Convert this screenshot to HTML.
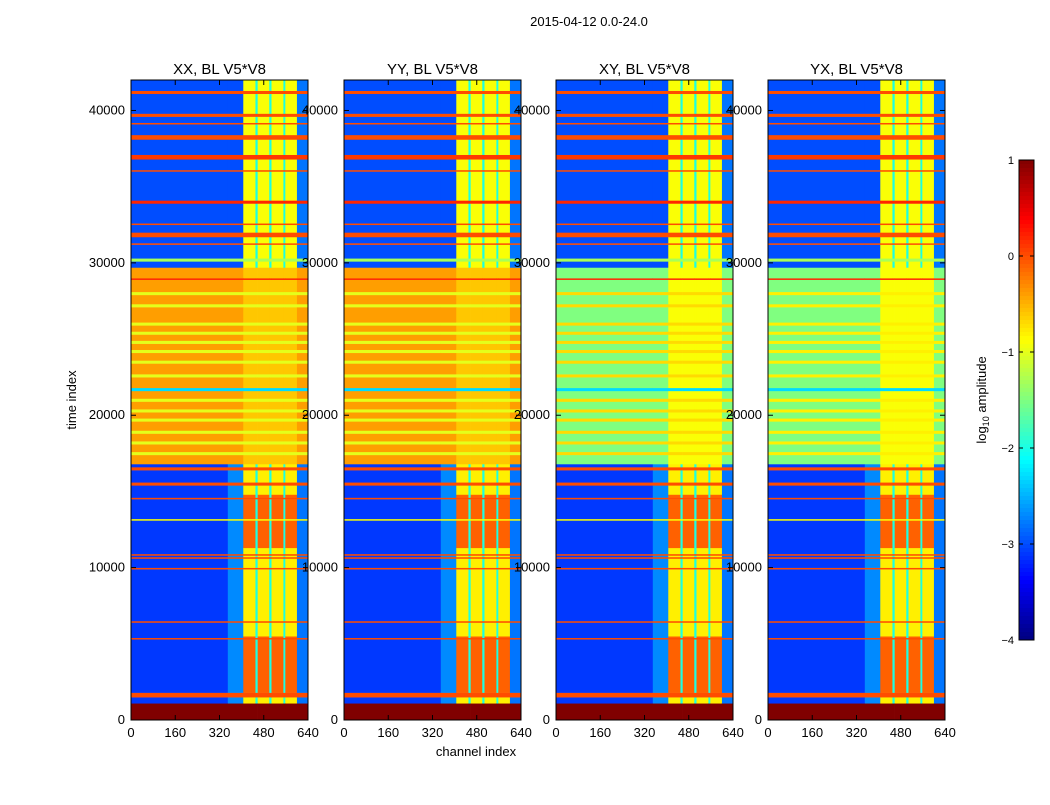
<!DOCTYPE html>
<html><head><meta charset="utf-8">
<style>
body{margin:0;background:#fff;}
svg text{font-family:"Liberation Sans",sans-serif;fill:#000;}
</style></head>
<body>
<svg id="fig" width="1050" height="800" xmlns="http://www.w3.org/2000/svg">
<rect width="1050" height="800" fill="#fff"/>
<text x="589" y="26" font-size="13" text-anchor="middle">2015-04-12 0.0-24.0</text>
<text transform="translate(76,400) rotate(-90)" font-size="13" text-anchor="middle">time index</text>
<text x="476" y="756" font-size="13" text-anchor="middle">channel index</text>
<g id="panels"></g>
<g id="cbar"></g>
<text transform="translate(986,400) rotate(-90)" font-size="13" text-anchor="middle">log<tspan font-size="9" dy="3">10</tspan><tspan dy="-3"> amplitude</tspan></text>
</svg>
<script>
const panelTitles = ["XX, BL V5*V8","YY, BL V5*V8","XY, BL V5*V8","YX, BL V5*V8"];
const panelLeft = [131,344,556,768];
const yTicks = [0,10000,20000,30000,40000];
const xTicks = [0,160,320,480,640];
const cbTicks = [1,0,-1,-2,-3,-4];
const bands = [[0,350,'bg'],[350,406,'ramp'],[406,450,'rfi'],[450,458,'gap'],[458,500,'rfi'],[500,508,'gap'],[508,551,'rfi'],[551,558,'gap'],[558,600,'rfi'],[600,640,'edge']];
const regions = [[0,1100,'flag'],[1100,16800,'low'],[16800,29700,'mid'],[29700,42000,'high']];
const hotSegments = [[1800,5500],[11300,14800]];
const midBase = [-0.4,-0.4,-1.5,-1.5];
const midRfi = [-0.6,-0.6,-0.9,-0.9];
const midLineVal = [-1.0,-1.0,-0.7,-0.8];
const midLines = [28000,27200,26000,25400,24800,24200,23500,22600,21000,20300,19700,18900,18200,17500];
const lines = [[41200,100,0],[39700,120,0],[39150,120,0],[38300,100,0],[38150,80,0],[36950,350,0.1],[36050,150,0],[34000,100,0.2],[33900,80,0],[33200,80,0],[32550,80,0],[31850,300,0],[31250,100,0],[30200,150,-1.3],[28950,150,0.2],[21700,100,-2.3],[16500,100,0],[15500,100,0],[14550,100,0],[13150,80,-0.9],[12500,80,-0.9],[10850,100,0],[10650,80,0],[9950,80,0],[7800,80,-0.9],[6450,100,0],[6200,80,0],[5350,80,0],[4100,80,0],[1650,200,0]];

const NS="http://www.w3.org/2000/svg";
const plotTop=80,plotBot=720,pw=177,tMax=42000;
function yS(t){return plotBot-(t/tMax)*(plotBot-plotTop);}
function jet(v){let f=Math.max(0,Math.min(1,(v+4)/5));
 const c=x=>Math.round(255*Math.max(0,Math.min(1,1.5-Math.abs(x))));
 return `rgb(${c(4*f-3)},${c(4*f-2)},${c(4*f-1)})`;}
function mk(tag,attrs,parent){const e=document.createElementNS(NS,tag);for(const k in attrs)e.setAttribute(k,attrs[k]);parent.appendChild(e);return e;}
function val(p,kind,t){
 let reg='high';for(const r of regions) if(t>=r[0]&&t<r[1]) reg=r[2];
 if(reg==='flag') return 1;
 for(const l of lines) if(Math.abs(t-l[0])<=l[1]/2) return l[2];
 if(reg==='mid'){
  for(const m of midLines) if(Math.abs(t-m)<=50) return midLineVal[p];
  return (kind==='rfi'||kind==='gap')?midRfi[p]:midBase[p];
 }
 if(reg==='low'){
  if(kind==='bg') return -3.1; if(kind==='ramp') return -2.7; if(kind==='edge') return -2.8; if(kind==='gap') return -2.0;
  for(const h of hotSegments) if(t>=h[0]&&t<h[1]) return -0.1;
  return -0.8;
 }
 if(kind==='bg'||kind==='ramp') return -3.0; if(kind==='edge') return -2.8; if(kind==='gap') return -2.0;
 return -0.9;
}
const G=document.getElementById('panels');
panelLeft.forEach((x0,p)=>{
 const g=mk('g',{},G);
 
 
 const xS=c=>x0+c/640*pw;
 const step=100;
 bands.forEach(b=>{
  let runStart=0,runVal=val(p,b[2],50);
  for(let t=step;t<=tMax;t+=step){
   const v=t<tMax?val(p,b[2],t+50):null;
   if(v!==runVal){
    const r=mk('rect',{x:xS(b[0]),width:xS(b[1])-xS(b[0])+0.3,y:yS(t),height:yS(runStart)-yS(t)+0.3,fill:jet(runVal)},g);
    
    
    runStart=t;runVal=v;
   }
  }
 });
 const fr=mk('rect',{x:x0,y:plotTop,width:pw,height:plotBot-plotTop,fill:'none',stroke:'#000','stroke-width':1},g);
 
 
 const tt=mk('text',{x:x0+pw/2,y:74,'font-size':15,'text-anchor':'middle'},g);tt.textContent=panelTitles[p];
 
 
 yTicks.forEach(v=>{const y=yS(v);
  mk('line',{x1:x0,x2:x0+5,y1:y,y2:y,stroke:'#000'},g);mk('line',{x1:x0+pw-5,x2:x0+pw,y1:y,y2:y,stroke:'#000'},g);
  const l=mk('text',{x:x0-6,y:y+4,'font-size':13,'text-anchor':'end'},g);l.textContent=v;
  
  });
 xTicks.forEach(v=>{const x=xS(v);
  mk('line',{x1:x,x2:x,y1:plotBot,y2:plotBot-5,stroke:'#000'},g);mk('line',{x1:x,x2:x,y1:plotTop,y2:plotTop+5,stroke:'#000'},g);
  const l=mk('text',{x:x,y:plotBot+17,'font-size':13,'text-anchor':'middle'},g);l.textContent=v;
  
  });
});
const C=document.getElementById('cbar');
const cx=1019,cw=15,cT=160,cB=640;
for(let i=0;i<120;i++){const y=cT+i*(cB-cT)/120;const v=1-i*5/120;
 const r=mk('rect',{x:cx,y:y,width:cw,height:(cB-cT)/120+0.5,fill:jet(v-5/240)},C);
 
 }
const cf=mk('rect',{x:cx,y:cT,width:cw,height:cB-cT,fill:'none',stroke:'#000'},C);


cbTicks.forEach(v=>{const y=cT+(1-v)/5*(cB-cT);
 mk('line',{x1:cx,x2:cx+4,y1:y,y2:y,stroke:'#000'},C);mk('line',{x1:cx+cw-4,x2:cx+cw,y1:y,y2:y,stroke:'#000'},C);
 const l=mk('text',{x:cx-5,y:y+4,'font-size':11,'text-anchor':'end'},C);l.textContent=v<0?'\u2212'+(-v):v;
 
 });
</script>
</body></html>
